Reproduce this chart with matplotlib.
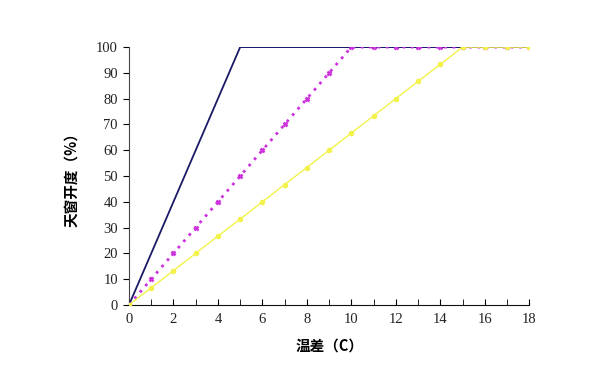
import matplotlib
matplotlib.use("Agg")
from matplotlib import pyplot as plt

# temperature difference vs. roof window opening
x = list(range(0, 19))
navy_y = [0, 20, 40, 60, 80, 100, 100, 100, 100, 100, 100, 100, 100, 100, 100, 100, 100, 100, 100]
magenta_y = [0, 10, 20, 30, 40, 50, 60, 70, 80, 90, 100, 100, 100, 100, 100, 100, 100, 100, 100]
yellow_y = [0, 6.7, 13.3, 20, 26.7, 33.3, 40, 46.7, 53.3, 60, 66.7, 73.3, 80, 86.7, 93.3, 100, 100, 100, 100]

x_ticks = [0, 2, 4, 6, 8, 10, 12, 14, 16, 18]
y_ticks = [0, 10, 20, 30, 40, 50, 60, 70, 80, 90, 100]

fig = plt.figure(figsize=(6, 3.86), dpi=100)
ax = fig.add_axes([0.215, 0.21, 0.667, 0.668])

ax.plot(x, navy_y, color="#1a1a66", lw=1.3, zorder=3)
ax.plot(x, magenta_y, color="#cc33dd", lw=2.0, ls=(0, (1, 2.0)),
        marker="x", ms=3, mew=1.8, zorder=4)
ax.plot(x, yellow_y, color="#f2f24a", lw=1.0, marker="o", ms=4,
        markeredgewidth=0, zorder=5)

ax.set_xlim(0, 18)
ax.set_ylim(0, 100)
ax.set_xticks(x_ticks)
ax.set_xticks(x, minor=True)
ax.set_yticks(y_ticks)

for s in ["top", "right"]:
    ax.spines[s].set_visible(False)
ax.spines["left"].set_color("#444444")
ax.spines["bottom"].set_color("#111111")

ax.tick_params(axis="x", which="both", direction="in", length=4, labelsize=10.5, pad=6)
ax.tick_params(axis="y", direction="out", length=4, labelsize=10.5, pad=4)
for lab in ax.get_xticklabels() + ax.get_yticklabels():
    lab.set_family("Liberation Serif")
    lab.set_color("#222222")

cjk = ["Noto Sans CJK SC", "DejaVu Sans"]
ax.set_xlabel("温差（C）", family=cjk, fontweight="bold", fontsize=10.5, labelpad=8)
ax.set_ylabel("天窗开度（%）", family=cjk, fontweight="bold", fontsize=10.5, labelpad=12)

plt.savefig("out.png")
